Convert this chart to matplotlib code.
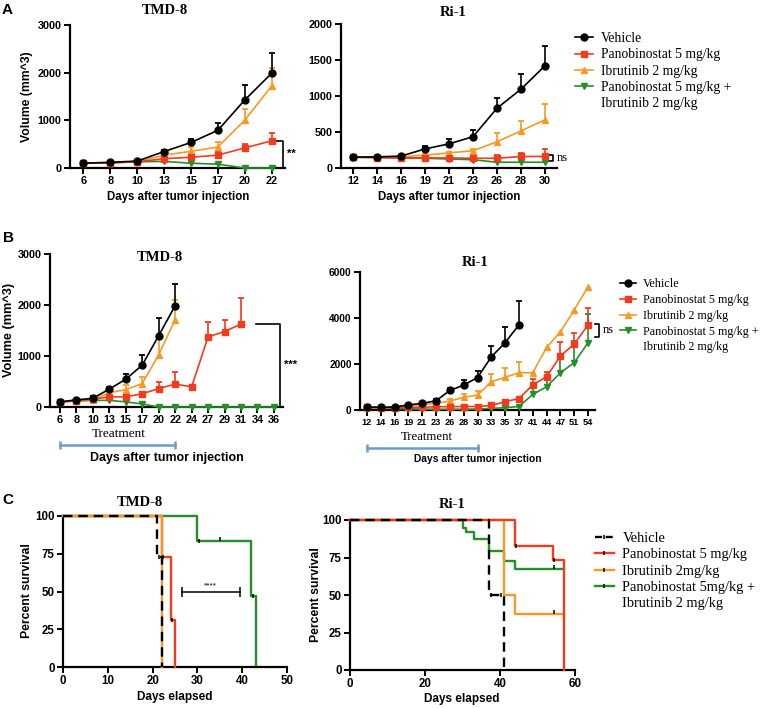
import numpy as np
import matplotlib
import matplotlib.pyplot as plt
from matplotlib.lines import Line2D

matplotlib.use('Agg')

W, H = 761, 708

RED = '#f23a1d'
ORANGE = '#f79a24'
GREEN = '#23902a'
BLUE = '#6a9bd1'

# ---- panel A, TMD-8 ----
a_tmd_days = [6, 8, 10, 13, 15, 17, 20, 22]
a_tmd_veh = [100, 120, 145, 345, 535, 790, 1425, 1985]
a_tmd_veh_err = [0, 0, 15, 30, 75, 150, 320, 420]
a_tmd_pano = [100, 110, 130, 195, 225, 270, 420, 570]
a_tmd_pano_err = [0, 0, 10, 30, 50, 60, 80, 160]
a_tmd_ibru = [100, 110, 130, 270, 350, 440, 1000, 1720]
a_tmd_ibru_err = [0, 0, 10, 40, 90, 100, 240, 370]
a_tmd_combo = [100, 110, 130, 140, 100, 80, 0, 0]
a_tmd_combo_err = [0, 0, 10, 10, 10, 10, 0, 0]

# ---- panel A, Ri-1 ----
a_ri_days = [12, 14, 16, 19, 21, 23, 26, 28, 30]
a_ri_veh = [150, 155, 165, 265, 335, 435, 830, 1095, 1420]
a_ri_veh_err = [10, 15, 15, 40, 65, 90, 145, 205, 280]
a_ri_pano = [150, 145, 140, 140, 140, 135, 135, 160, 160]
a_ri_pano_err = [10, 10, 10, 15, 15, 15, 50, 50, 100]
a_ri_ibru = [150, 150, 155, 180, 210, 240, 365, 515, 670]
a_ri_ibru_err = [5, 5, 5, 10, 15, 20, 120, 140, 220]
a_ri_combo = [150, 145, 140, 135, 125, 115, 80, 80, 80]
a_ri_combo_err = [5, 5, 5, 5, 5, 5, 5, 5, 5]

# ---- panel B, TMD-8 ----
b_tmd_days = [6, 8, 10, 13, 15, 17, 20, 22, 24, 27, 29, 31, 34, 36]
b_tmd_veh = [100, 140, 170, 350, 545, 820, 1400, 1985]
b_tmd_veh_err = [0, 20, 40, 40, 110, 200, 350, 420]
b_tmd_pano = [100, 120, 150, 200, 200, 260, 360, 450, 395, 1375, 1480, 1625]
b_tmd_pano_err = [0, 10, 20, 30, 30, 40, 130, 240, 30, 290, 220, 520]
b_tmd_ibru = [100, 120, 140, 280, 340, 460, 1025, 1710]
b_tmd_ibru_err = [0, 10, 20, 40, 90, 130, 320, 380]
b_tmd_combo = [100, 120, 130, 130, 100, 60, 0, 0, 0, 0, 0, 0, 0, 0]
b_tmd_combo_err = [0, 10, 10, 10, 10, 10, 0, 0, 0, 0, 0, 0, 0, 0]

# ---- panel B, Ri-1 ----
b_ri_days = [12, 14, 16, 19, 21, 23, 26, 28, 30, 33, 35, 37, 41, 44, 47, 51, 54]
b_ri_veh = [130, 120, 130, 220, 290, 400, 850, 1080, 1410, 2310, 2930, 3700]
b_ri_veh_err = [0, 20, 30, 50, 60, 80, 120, 230, 270, 480, 690, 1050]
b_ri_pano = [120, 100, 100, 110, 120, 140, 145, 150, 150, 200, 360, 500,
             1090, 1450, 2350, 2870, 3700]
b_ri_pano_err = [0, 0, 0, 10, 20, 20, 20, 20, 30, 40, 60, 80,
                 250, 220, 620, 490, 720]
b_ri_ibru = [100, 100, 110, 160, 230, 290, 390, 550, 650, 1230, 1420, 1620,
             1620, 2720, 3400, 4350, 5360]
b_ri_ibru_err = [0, 10, 20, 40, 60, 80, 100, 150, 190, 320, 390, 480,
                 0, 0, 0, 0, 0]
b_ri_combo = [100, 80, 60, 50, 40, 30, 30, 30, 40, 70, 100, 150,
              680, 1010, 1620, 2060, 2930]
b_ri_combo_err = [0, 0, 0, 0, 0, 0, 0, 0, 0, 0, 0, 0, 300, 450, 600, 940, 1230]

# ---- panel C, survival (step times / percent) ----
c_tmd_veh_t = [0, 21, 22]
c_tmd_veh_s = [100, 72.7, 0]
c_tmd_pano_t = [0, 22, 24, 25]
c_tmd_pano_s = [100, 73, 31, 0]
c_tmd_ibru_t = [0, 22]
c_tmd_ibru_s = [100, 0]
c_tmd_combo_t = [0, 30, 42, 43]
c_tmd_combo_s = [100, 83.3, 47, 0]
c_tmd_cens = {'veh': ([21.4], [72.7]), 'pano': ([22.4, 24.3], [73, 31]),
              'combo': ([30.4, 35, 42.3], [83.3, 84.5, 47])}

c_ri_veh_t = [0, 37, 41]
c_ri_veh_s = [100, 50, 0]
c_ri_pano_t = [0, 44, 54, 57]
c_ri_pano_s = [100, 82.5, 73.5, 0]
c_ri_ibru_t = [0, 41, 44, 57]
c_ri_ibru_s = [100, 50, 37.5, 37.5]
c_ri_combo_t = [0, 30, 31, 33, 37, 41, 44, 57]
c_ri_combo_s = [100, 94.5, 92, 87.5, 79.5, 72.5, 67.5, 67.5]
c_ri_cens = {'veh': ([37.5, 40.3], [50, 50]), 'pano': ([44.3, 54.3], [82.5, 73.5]),
             'ibru': ([54.3], [38.5]), 'combo': ([54.3], [68.5])}

leg_growth = ['Vehicle', 'Panobinostat 5 mg/kg', 'Ibrutinib 2 mg/kg',
              'Panobinostat 5 mg/kg +', 'Ibrutinib 2 mg/kg']
leg_surv = ['Vehicle', 'Panobinostat 5 mg/kg', 'Ibrutinib 2mg/kg',
            'Panobinostat 5mg/kg +', 'Ibrutinib 2 mg/kg']

SERIF = 'Liberation Serif'
SANS = 'Liberation Sans'


def add_px(fig, l, t, r, b):
    return fig.add_axes([l / W, 1 - b / H, (r - l) / W, (b - t) / H])


def ftext(fig, x, y, s, **kw):
    kw.setdefault('ha', 'center')
    kw.setdefault('va', 'center')
    return fig.text(x / W, 1 - y / H, s, **kw)


def style(ax, labelsize=7.8):
    for s in ['top', 'right']:
        ax.spines[s].set_visible(False)
    for s in ['left', 'bottom']:
        ax.spines[s].set_linewidth(1.6)
    ax.tick_params(width=1.4, length=4, labelsize=labelsize, pad=2)
    for lab in ax.get_xticklabels() + ax.get_yticklabels():
        lab.set_fontweight('bold')


def growth(ax, y, err, color, marker, ms=5):
    y = np.asarray(y, float)
    err = np.asarray(err, float)
    x = np.arange(len(y))
    m = err > 0
    ax.vlines(x[m], y[m], y[m] + err[m], color=color, lw=1.2, zorder=2)
    ax.plot(x[m], y[m] + err[m], ls='none', marker='_', ms=5, mew=1.3,
            color=color, zorder=2)
    ax.plot(x, y, color=color, lw=1.2, marker=marker, ms=ms, zorder=3,
            clip_on=False)


def growth_panel(ax, days, series, ylim, yticks, labelsize=7.8):
    for y, e, c, mk in series:
        growth(ax, y, e, c, mk)
    ax.set_xticks(np.arange(len(days)))
    ax.set_xticklabels([str(d) for d in days])
    ax.set_ylim(*ylim)
    ax.set_yticks(yticks)
    style(ax, labelsize)


def km(ax, t, s, color, ls='-', z=2):
    ax.step(t, s, where='post', color=color, lw=1.7, ls=ls, zorder=z,
            clip_on=False)


def censor(ax, pts):
    for tt, ss in pts.values():
        ax.plot(tt, ss, ls='none', marker='|', color='k', ms=3.5, mew=1.1,
                zorder=6, clip_on=False)


def bracket(ax, x0, x1, ytop, ybot):
    ax.plot([x0, x1, x1, x0], [ytop, ytop, ybot, ybot], color='k', lw=1.2,
            clip_on=False)


def treatment_bar(ax, x0, x1, ya):
    tr = ax.get_xaxis_transform()
    ax.plot([x0, x1], [ya, ya], color=BLUE, lw=1.8, transform=tr, clip_on=False)
    ax.plot([x0, x1], [ya, ya], ls='none', marker='|', ms=6, mew=1.8,
            color=BLUE, transform=tr, clip_on=False)


def growth_handles():
    hs = [Line2D([], [], color='k', marker='o', ms=5, lw=1.2),
          Line2D([], [], color=RED, marker='s', ms=5, lw=1.2),
          Line2D([], [], color=ORANGE, marker='^', ms=5, lw=1.2),
          Line2D([], [], color=GREEN, marker='v', ms=5, lw=1.2),
          Line2D([], [], color='none')]
    return hs


def leg_kw(size, spacing=0.22):
    return dict(loc='upper left', frameon=False, borderpad=0, borderaxespad=0,
                handlelength=1.3, handletextpad=0.6, labelspacing=spacing,
                numpoints=1, prop=dict(family=SERIF, size=size))


def main():
    plt.rcParams['font.family'] = SANS
    fig = plt.figure(figsize=(W / 100, H / 100), dpi=100)

    # ---------- A ----------
    ax = add_px(fig, 70, 25, 285, 168)
    growth_panel(ax, a_tmd_days,
                 [(a_tmd_combo, a_tmd_combo_err, GREEN, 'v'),
                  (a_tmd_ibru, a_tmd_ibru_err, ORANGE, '^'),
                  (a_tmd_pano, a_tmd_pano_err, RED, 's'),
                  (a_tmd_veh, a_tmd_veh_err, 'k', 'o')],
                 (0, 3000), [0, 1000, 2000, 3000])
    ax.set_xlim(-0.5, 7.5)
    bracket(ax, 7.09, 7.43, a_tmd_pano[-1], 0)
    ax.text(7.58, 300, '**', fontsize=8, fontweight='bold', va='center')

    ax = add_px(fig, 341, 24, 557, 168)
    growth_panel(ax, a_ri_days,
                 [(a_ri_combo, a_ri_combo_err, GREEN, 'v'),
                  (a_ri_ibru, a_ri_ibru_err, ORANGE, '^'),
                  (a_ri_pano, a_ri_pano_err, RED, 's'),
                  (a_ri_veh, a_ri_veh_err, 'k', 'o')],
                 (0, 2000), [0, 500, 1000, 1500, 2000])
    ax.set_xlim(-0.5, 8.5)
    bracket(ax, 8.17, 8.33, 180, 97)
    ax.text(8.5, 138, 'ns', fontsize=9, family=SERIF, va='center')

    fig.legend(growth_handles(), leg_growth,
               bbox_to_anchor=(575 / W, 1 - 32 / H), **leg_kw(9.8, 0.24))

    ftext(fig, 7, 10, 'A', fontsize=11, fontweight='bold')
    ftext(fig, 165, 11, 'TMD-8', fontsize=10.5, family=SERIF, fontweight='bold')
    ftext(fig, 453, 13, 'Ri-1', fontsize=10.5, family=SERIF, fontweight='bold')
    ftext(fig, 27, 97, 'Volume (mm^3)', fontsize=8.8, fontweight='bold', rotation=90)
    ftext(fig, 178, 197, 'Days after tumor injection', fontsize=8.3, fontweight='bold')
    ftext(fig, 449, 197, 'Days after tumor injection', fontsize=8.3, fontweight='bold')

    # ---------- B ----------
    ax = add_px(fig, 50, 254, 283, 407)
    growth_panel(ax, b_tmd_days,
                 [(b_tmd_combo, b_tmd_combo_err, GREEN, 'v'),
                  (b_tmd_ibru, b_tmd_ibru_err, ORANGE, '^'),
                  (b_tmd_pano, b_tmd_pano_err, RED, 's'),
                  (b_tmd_veh, b_tmd_veh_err, 'k', 'o')],
                 (0, 3000), [0, 1000, 2000, 3000])
    ax.set_xlim(-0.6, 13.55)
    bracket(ax, 11.9, 13.36, b_tmd_pano[-1], 0)
    ax.text(13.6, 820, '***', fontsize=8, fontweight='bold', va='center')
    treatment_bar(ax, 0, b_tmd_days.index(22), -0.25)

    ax = add_px(fig, 360, 272, 595, 410)
    growth_panel(ax, b_ri_days,
                 [(b_ri_combo, b_ri_combo_err, GREEN, 'v'),
                  (b_ri_ibru, b_ri_ibru_err, ORANGE, '^'),
                  (b_ri_pano, b_ri_pano_err, RED, 's'),
                  (b_ri_veh, b_ri_veh_err, 'k', 'o')],
                 (0, 6000), [0, 2000, 4000, 6000], labelsize=6.6)
    ax.tick_params(axis='x', pad=1.5)
    ax.tick_params(axis='y', labelsize=7.3)
    ax.set_xlim(-0.5, 16.5)
    bracket(ax, 16.5, 16.8, 3740, 3170)
    ax.text(17.05, 3480, 'ns', fontsize=9, family=SERIF, va='center')
    treatment_bar(ax, 0, b_ri_days.index(30), -0.275)

    fig.legend(growth_handles(), leg_growth,
               bbox_to_anchor=(620 / W, 1 - 278 / H), **leg_kw(8.7, 0.32))

    ftext(fig, 8, 238, 'B', fontsize=11, fontweight='bold')
    ftext(fig, 160, 258, 'TMD-8', fontsize=10.5, family=SERIF, fontweight='bold')
    ftext(fig, 475, 262, 'Ri-1', fontsize=10.5, family=SERIF, fontweight='bold')
    ftext(fig, 9, 330, 'Volume (mm^3)', fontsize=9.2, fontweight='bold', rotation=90)
    ftext(fig, 119, 434, 'Treatment', fontsize=9.5, family=SERIF)
    ftext(fig, 427, 437, 'Treatment', fontsize=9.2, family=SERIF)
    ftext(fig, 167, 458, 'Days after tumor injection', fontsize=8.9, fontweight='bold')
    ftext(fig, 478, 459, 'Days after tumor injection', fontsize=7.4, fontweight='bold')

    # ---------- C ----------
    ax = add_px(fig, 63, 516, 287, 667)
    km(ax, c_tmd_combo_t, c_tmd_combo_s, GREEN, z=2)
    km(ax, c_tmd_pano_t, c_tmd_pano_s, RED, z=3)
    km(ax, c_tmd_ibru_t, c_tmd_ibru_s, ORANGE, z=4)
    km(ax, c_tmd_veh_t, c_tmd_veh_s, 'k', ls=(0, (4, 2.5)), z=5)
    censor(ax, c_tmd_cens)
    ax.set_xlim(0, 50)
    ax.set_ylim(0, 100)
    ax.set_xticks([0, 10, 20, 30, 40, 50])
    ax.set_yticks([0, 25, 50, 75, 100])
    style(ax, 8.3)
    ax.plot([26.5, 39.6], [50, 50], color='k', lw=1.1)
    ax.plot([26.5, 39.6], [50, 50], ls='none', marker='|', ms=7, mew=1.1, color='k')
    ax.text(33, 54, '****', fontsize=6, ha='center', va='center')

    ax = add_px(fig, 350, 520, 575, 670)
    km(ax, c_ri_combo_t, c_ri_combo_s, GREEN, z=2)
    km(ax, c_ri_ibru_t, c_ri_ibru_s, ORANGE, z=3)
    km(ax, c_ri_pano_t, c_ri_pano_s, RED, z=4)
    km(ax, c_ri_veh_t, c_ri_veh_s, 'k', ls=(0, (4, 2.5)), z=5)
    censor(ax, c_ri_cens)
    ax.set_xlim(0, 60)
    ax.set_ylim(0, 100)
    ax.set_xticks([0, 20, 40, 60])
    ax.set_yticks([0, 25, 50, 75, 100])
    style(ax, 8.3)

    surv_handles = [Line2D([], [], color='k', ls=(0, (3, 1.5)), lw=1.7,
                           marker='|', mec='k', ms=3.5, mew=1.1),
                    Line2D([], [], color=RED, lw=1.7, marker='|', mec='k', ms=3.5, mew=1.1),
                    Line2D([], [], color=ORANGE, lw=1.7, marker='|', mec='k', ms=3.5, mew=1.1),
                    Line2D([], [], color=GREEN, lw=1.7, marker='|', mec='k', ms=3.5, mew=1.1),
                    Line2D([], [], color='none')]
    fig.legend(surv_handles, leg_surv,
               bbox_to_anchor=(595 / W, 1 - 532 / H), **leg_kw(10.4, 0.22))

    ftext(fig, 8, 500, 'C', fontsize=11, fontweight='bold')
    ftext(fig, 140, 502, 'TMD-8', fontsize=10.5, family=SERIF, fontweight='bold')
    ftext(fig, 452, 504, 'Ri-1', fontsize=10.5, family=SERIF, fontweight='bold')
    ftext(fig, 27, 591, 'Percent survival', fontsize=8.8, fontweight='bold', rotation=90)
    ftext(fig, 316, 595, 'Percent survival', fontsize=8.8, fontweight='bold', rotation=90)
    ftext(fig, 175, 697, 'Days elapsed', fontsize=8.5, fontweight='bold')
    ftext(fig, 462, 699, 'Days elapsed', fontsize=8.5, fontweight='bold')

    fig.savefig('out.png', dpi=100)


if __name__ == '__main__':
    main()
